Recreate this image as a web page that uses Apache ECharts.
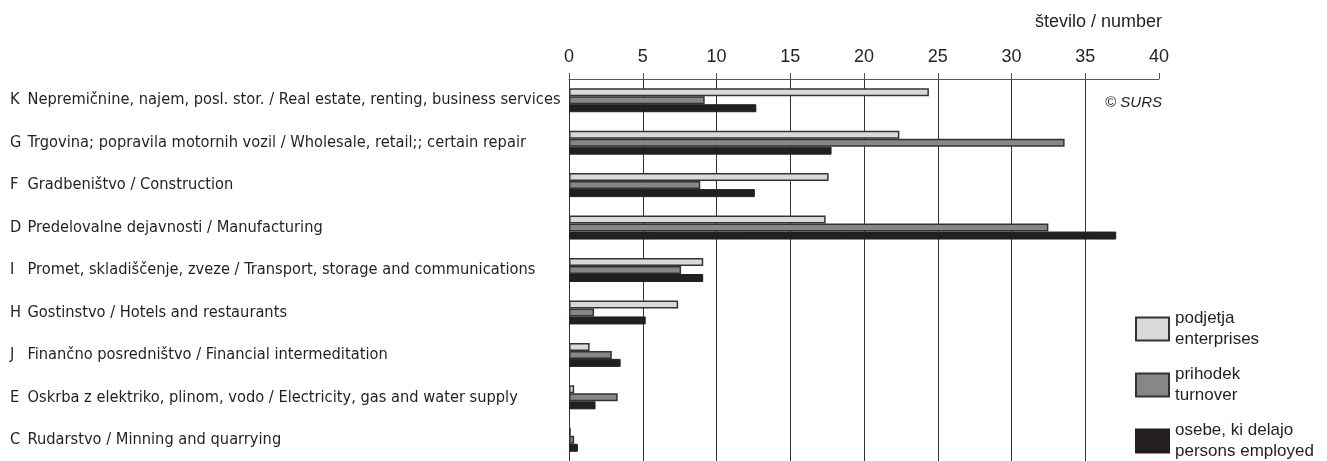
<!DOCTYPE html>
<html>
<head>
<meta charset="utf-8">
<script src="https://cdn.jsdelivr.net/npm/echarts@6/dist/echarts.min.js"></script>
<style>
html,body{margin:0;padding:0;background:#fff;}
#c{width:1327px;height:461px;}
</style>
</head>
<body>
<div id="c"></div>
<script>
const categories = [
  "K Nepremičnine, najem, posl. stor. / Real estate, renting, business services",
  "G Trgovina; popravila motornih vozil / Wholesale, retail;; certain repair",
  "F Gradbeništvo / Construction",
  "D Predelovalne dejavnosti / Manufacturing",
  "I Promet, skladiščenje, zveze / Transport, storage and communications",
  "H Gostinstvo / Hotels and restaurants",
  "J Finančno posredništvo / Financial intermeditation",
  "E Oskrba z elektriko, plinom, vodo / Electricity, gas and water supply",
  "C Rudarstvo / Minning and quarrying"
];
const enterprises = [24.4, 22.4, 17.6, 17.4, 9.1, 7.4, 1.4, 0.35, 0.12];
const turnover    = [9.2, 33.6, 8.9, 32.5, 7.6, 1.7, 2.9, 3.3, 0.35];
const persons     = [12.7, 17.8, 12.6, 37.1, 9.1, 5.2, 3.5, 1.8, 0.6];
const seriesNames = ["podjetja\nenterprises", "prihodek\nturnover", "osebe, ki delajo\npersons employed"];
const tickValues = [0, 5, 10, 15, 20, 25, 30, 35, 40];

const chart = echarts.init(document.getElementById('c'), null, {renderer: 'canvas'});
const narrow = '"Liberation Sans Narrow", "DejaVu Sans Condensed", "Liberation Sans", sans-serif';
const sans = '"Liberation Sans", Arial, sans-serif';
const ink = '#231f20';
const catSize = 16.3;

chart.setOption({
  animation: false,
  backgroundColor: '#fff',
  title: [{
    text: 'število / number',
    right: 160, top: 8,
    textStyle: {fontFamily: sans, fontSize: 18, fontWeight: 'normal', color: ink}
  }, {
    text: '© SURS',
    right: 160, top: 90,
    textStyle: {fontFamily: sans, fontSize: 15, fontStyle: 'italic', fontWeight: 'normal', color: ink}
  }],
  legend: {
    orient: 'vertical',
    left: 1130, top: 303, height: 400,
    icon: 'rect',
    itemWidth: 33, itemHeight: 23,
    itemGap: 14,
    data: seriesNames,
    selectedMode: false,
    textStyle: {fontFamily: sans, fontSize: 17, color: ink, lineHeight: 21, padding: [0, 0, 0, 1]}
  },
  grid: {left: 569, right: 168, top: 79, bottom: 0, containLabel: false},
  xAxis: {
    type: 'value',
    position: 'top',
    min: tickValues[0], max: tickValues[tickValues.length - 1], interval: 5,
    axisLine: {show: true, lineStyle: {color: '#555', width: 1}},
    axisTick: {show: true, length: 6, lineStyle: {color: '#555', width: 1}},
    axisLabel: {fontFamily: sans, fontSize: 18, color: ink, margin: 13},
    splitLine: {show: true, showMinLine: false, showMaxLine: false, lineStyle: {color: '#333', width: 1}}
  },
  yAxis: {
    type: 'category',
    inverse: true,
    data: categories,
    axisLine: {show: true, lineStyle: {color: '#333', width: 1}},
    axisTick: {show: false},
    axisLabel: {
      align: 'left', margin: 559, fontFamily: narrow, fontSize: catSize, color: ink,
      formatter: function (v) {
        return '{a|' + v.charAt(0) + '}{b|' + v.slice(2) + '}';
      },
      rich: {
        a: {width: 17.5, align: 'left', fontFamily: narrow, fontSize: catSize, color: ink},
        b: {fontFamily: narrow, fontSize: catSize, color: ink}
      }
    }
  },
  series: [{
    name: seriesNames[0], type: 'bar', data: enterprises,
    barWidth: 8, barGap: '0%',
    itemStyle: {color: '#d9d9d9', borderColor: '#333', borderWidth: 1.5}
  }, {
    name: seriesNames[1], type: 'bar', data: turnover,
    barWidth: 8, barGap: '0%',
    itemStyle: {color: '#878787', borderColor: '#333', borderWidth: 1.5}
  }, {
    name: seriesNames[2], type: 'bar', data: persons,
    barWidth: 8, barGap: '0%',
    itemStyle: {color: ink, borderColor: ink, borderWidth: 1}
  }]
});
</script>
</body>
</html>
